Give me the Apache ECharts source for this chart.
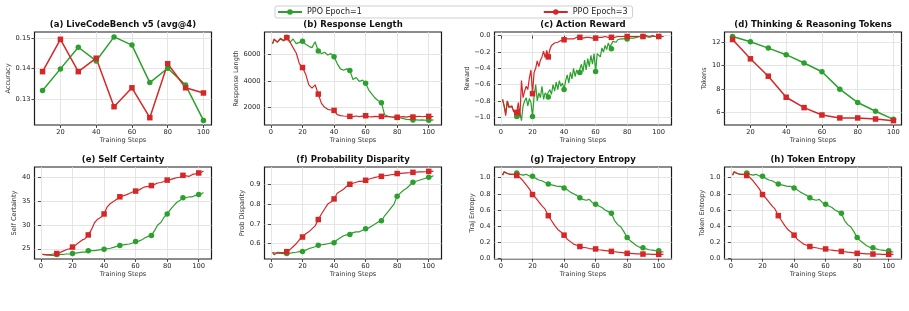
<!DOCTYPE html>
<html>
<head>
<meta charset="utf-8">
<script src="https://cdn.jsdelivr.net/npm/echarts@6/dist/echarts.min.js"></script>
<style>
  html, body { margin: 0; padding: 0; background: #fff; }
  #chart { width: 909px; height: 311px; }
</style>
</head>
<body>
<div id="chart"></div>
<script>
// ---- data ----
const evalSteps = [10, 20, 30, 40, 50, 60, 70, 80, 90, 100];
// training steps sampled every 2 steps (panels b, e, f, g, h)
const trainSteps = [1, 2, 4, 6, 8, 10, 12, 14, 16, 18, 20, 22, 24, 26, 28, 30, 32, 34, 36, 38, 40,
  42, 44, 46, 48, 50, 52, 54, 56, 58, 60, 62, 64, 66, 68, 70, 72, 74, 76, 78, 80,
  82, 84, 86, 88, 90, 92, 94, 96, 98, 100, 102, 103];
// every step (panel c, very noisy)
const allSteps = [];
for (let s = 1; s <= 103; s++) allSteps.push(s);

const accEpoch1 = [0.1327, 0.1398, 0.1469, 0.1424, 0.1503, 0.1476, 0.1353, 0.1400, 0.1345, 0.1229];
const accEpoch3 = [0.1389, 0.1495, 0.1389, 0.1433, 0.1274, 0.1336, 0.1238, 0.1415, 0.1336, 0.1319];

const tokensEpoch1 = [12.45, 12.0, 11.46, 10.9, 10.19, 9.45, 7.97, 6.83, 6.09, 5.4];
const tokensEpoch3 = [12.2, 10.55, 9.07, 7.28, 6.4, 5.77, 5.52, 5.52, 5.43, 5.29];

const respEpoch1 = [6800,
  7100, 6950, 7150, 7000, 7280, 6900, 7150, 6800, 6900, 6980,
  6750, 6600, 6500, 6950, 6250, 6050, 6150, 5950, 6050, 5820,
  5300, 4900, 4800, 4900, 4770, 4100, 4250, 3950, 4050, 3810,
  3300, 3000, 2700, 2500, 2350, 1450, 1320, 1280, 1250, 1230,
  1200, 1150, 1100, 1080, 1050, 1060, 1040, 1050, 1030, 1020,
  1040, 1050];
const respEpoch3 = [6800,
  7150, 6900, 7200, 7050, 7250, 6950, 6500, 6100, 5300, 5000,
  4500, 3700, 3450, 3700, 3000, 2300, 2000, 1850, 1800, 1770,
  1450, 1380, 1350, 1330, 1320, 1300, 1350, 1300, 1340, 1370,
  1300, 1280, 1320, 1300, 1320, 1300, 1320, 1290, 1270, 1250,
  1280, 1300, 1270, 1320, 1270, 1300, 1330, 1290, 1320, 1320,
  1300, 1310];

const rewardEpoch1 = [
  -0.78, -0.86, -0.95, -0.80, -0.86, -0.84, -0.88, -0.92, -0.90, -0.99,
  -0.90, -0.95, -1.04, -0.86, -0.80, -0.76, -0.86, -0.77, -0.82, -0.99,
  -0.74, -0.60, -0.80, -0.70, -0.76, -0.62, -0.78, -0.70, -0.73, -0.75,
  -0.66, -0.72, -0.60, -0.68, -0.57, -0.66, -0.55, -0.62, -0.58, -0.66,
  -0.55, -0.48, -0.58, -0.45, -0.53, -0.40, -0.50, -0.42, -0.47, -0.45,
  -0.35, -0.44, -0.30, -0.42, -0.28, -0.38, -0.24, -0.35, -0.22, -0.44,
  -0.22, -0.20, -0.26, -0.15, -0.20, -0.12, -0.17, -0.09, -0.14, -0.16,
  -0.07, -0.06, -0.08, -0.05, -0.06, -0.04, -0.06, -0.04, -0.05, -0.04,
  -0.03, -0.03, -0.02, -0.03, -0.02, -0.02, -0.02, -0.01, -0.02, -0.01,
  -0.02, -0.01, -0.01, -0.02, -0.01, -0.01, -0.01, -0.01, -0.01, -0.01,
  -0.01, -0.01, -0.01];
const rewardEpoch3 = [
  -0.78, -0.86, -0.98, -0.80, -0.88, -0.90, -0.86, -0.93, -0.91, -0.94,
  -0.82, -1.00, -0.55, -0.76, -0.68, -0.62, -0.66, -0.52, -0.42, -0.71,
  -0.45, -0.40, -0.31, -0.38, -0.30, -0.26, -0.19, -0.27, -0.18, -0.26,
  -0.17, -0.12, -0.10, -0.09, -0.08, -0.08, -0.07, -0.06, -0.06, -0.05,
  -0.05, -0.04, -0.05, -0.04, -0.03, -0.04, -0.03, -0.02, -0.03, -0.02,
  -0.02, -0.03, -0.02, -0.02, -0.03, -0.02, -0.02, -0.03, -0.02, -0.03,
  -0.02, -0.02, -0.01, -0.02, -0.02, -0.01, -0.02, -0.02, -0.01, -0.02,
  -0.01, -0.02, -0.01, -0.01, -0.02, -0.01, -0.01, -0.01, -0.02, -0.01,
  -0.01, -0.01, -0.02, -0.01, -0.01, -0.01, -0.00, -0.01, -0.01, -0.01,
  -0.01, -0.00, -0.01, -0.01, -0.01, -0.00, -0.01, -0.01, -0.00, -0.01,
  -0.01, -0.01, -0.01];

const certEpoch1 = [23.8,
  23.7, 23.7, 23.6, 23.6, 23.8, 23.8, 23.8, 23.9, 23.9, 24.0,
  24.1, 24.2, 24.3, 24.3, 24.6, 24.6, 24.6, 24.7, 24.8, 24.9,
  25.0, 25.1, 25.3, 25.5, 25.7, 25.8, 25.9, 26.0, 26.2, 26.5,
  26.6, 26.9, 27.3, 27.6, 27.8, 28.8, 30.0, 30.5, 31.6, 32.3,
  33.2, 34.0, 34.7, 35.1, 35.7, 35.7, 35.9, 35.9, 36.2, 36.4,
  36.6, 36.8];
const certEpoch3 = [23.8,
  23.7, 23.7, 23.8, 23.9, 24.0, 24.2, 24.5, 24.8, 25.0, 25.35,
  25.8, 26.3, 26.8, 27.1, 27.9, 29.0, 30.5, 31.2, 31.6, 32.3,
  33.8, 34.5, 34.9, 35.4, 35.9, 36.1, 36.3, 36.6, 36.9, 37.1,
  37.3, 37.7, 38.0, 38.1, 38.25, 38.5, 38.8, 38.9, 39.1, 39.4,
  39.5, 39.7, 39.9, 40.0, 40.4, 40.3, 40.2, 40.6, 40.7, 40.9,
  41.1, 41.3];

const probEpoch1 = [0.555,
  0.553, 0.552, 0.551, 0.550, 0.551, 0.552, 0.555, 0.557, 0.560, 0.561,
  0.568, 0.575, 0.580, 0.585, 0.592, 0.595, 0.597, 0.600, 0.603, 0.605,
  0.620, 0.630, 0.640, 0.645, 0.647, 0.656, 0.660, 0.660, 0.668, 0.675,
  0.680, 0.690, 0.700, 0.710, 0.716, 0.740, 0.760, 0.780, 0.800, 0.840,
  0.855, 0.870, 0.880, 0.895, 0.910, 0.915, 0.920, 0.925, 0.930, 0.935,
  0.940, 0.943];
const probEpoch3 = [0.556,
  0.545, 0.556, 0.555, 0.555, 0.560, 0.570, 0.585, 0.600, 0.620, 0.634,
  0.650, 0.660, 0.675, 0.690, 0.722, 0.750, 0.775, 0.800, 0.810, 0.826,
  0.855, 0.865, 0.875, 0.890, 0.900, 0.905, 0.910, 0.915, 0.915, 0.920,
  0.925, 0.930, 0.935, 0.938, 0.940, 0.943, 0.945, 0.948, 0.950, 0.954,
  0.955, 0.956, 0.957, 0.958, 0.960, 0.961, 0.962, 0.962, 0.963, 0.965,
  0.965, 0.966];

// trajectory entropy and token entropy show the same curves
const entEpoch1 = [1.03,
  1.07, 1.05, 1.04, 1.04, 1.057, 1.04, 1.03, 1.04, 1.02, 1.015,
  0.99, 0.97, 0.96, 0.94, 0.92, 0.91, 0.90, 0.89, 0.89, 0.87,
  0.85, 0.82, 0.80, 0.78, 0.75, 0.73, 0.72, 0.73, 0.69, 0.67,
  0.65, 0.63, 0.60, 0.58, 0.56, 0.47, 0.42, 0.39, 0.33, 0.26,
  0.22, 0.19, 0.16, 0.14, 0.135, 0.12, 0.11, 0.105, 0.10, 0.098,
  0.085, 0.08];
const entEpoch3 = [1.03,
  1.07, 1.05, 1.04, 1.04, 1.025, 1.00, 0.96, 0.91, 0.86, 0.79,
  0.75, 0.70, 0.65, 0.61, 0.53, 0.47, 0.41, 0.36, 0.33, 0.29,
  0.24, 0.21, 0.18, 0.165, 0.15, 0.14, 0.135, 0.125, 0.12, 0.12,
  0.11, 0.105, 0.10, 0.095, 0.09, 0.085, 0.08, 0.078, 0.072, 0.066,
  0.065, 0.063, 0.060, 0.058, 0.057, 0.056, 0.055, 0.054, 0.053, 0.053,
  0.052, 0.052];

// tick labels
const evalTicks = [20, 40, 60, 80, 100];
const trainTicks = [0, 20, 40, 60, 80, 100];
const accTicks = [0.13, 0.14, 0.15];
const respTicks = [2000, 4000, 6000];
const rewardTicks = [-1.0, -0.8, -0.6, -0.4, -0.2, 0.0];
const tokenTicks = [6, 8, 10, 12];
const certTicks = [25, 30, 35, 40];
const probTicks = [0.6, 0.7, 0.8, 0.9];
const entTicks = [0.0, 0.2, 0.4, 0.6, 0.8, 1.0];

const GREEN = '#2ca02c';
const RED = '#d62728';
const FONT = 'DejaVu Sans';

function pairs(xs, ys) {
  return xs.map((x, i) => [x, ys[i]]);
}
function dec(n) {
  return v => (+v).toFixed(n).replace('-', '\u2212');
}

const panels = [
  { title: '(a) LiveCodeBench v5 (avg@4)', yName: 'Accuracy', gap: 21, x: [5.5, 104.5], y: [0.1214, 0.1519],
    xt: evalTicks, yt: accTicks, fmt: dec(2), g: pairs(evalSteps, accEpoch1), r: pairs(evalSteps, accEpoch3), lw: 1.5 },
  { title: '(b) Response Length', yName: 'Response Length', gap: 23.5, x: [-4.1, 108.1], y: [670, 7680],
    xt: trainTicks, yt: respTicks, fmt: dec(0), g: pairs(trainSteps, respEpoch1), r: pairs(trainSteps, respEpoch3), lw: 1.2 },
  { title: '(c) Action Reward', yName: 'Reward', gap: 23, x: [-4.1, 108.1], y: [-1.094, 0.045],
    xt: trainTicks, yt: rewardTicks, fmt: dec(1), g: pairs(allSteps, rewardEpoch1), r: pairs(allSteps, rewardEpoch3), lw: 1.2 },
  { title: '(d) Thinking & Reasoning Tokens', yName: 'Tokens', gap: 16, x: [5.5, 104.5], y: [4.92, 12.83],
    xt: evalTicks, yt: tokenTicks, fmt: dec(0), g: pairs(evalSteps, tokensEpoch1), r: pairs(evalSteps, tokensEpoch3), lw: 1.5 },
  { title: '(e) Self Certainty', yName: 'Self Certainty', gap: 16, x: [-4.1, 108.1], y: [22.85, 42.15],
    xt: trainTicks, yt: certTicks, fmt: dec(0), g: pairs(trainSteps, certEpoch1), r: pairs(trainSteps, certEpoch3), lw: 1.2 },
  { title: '(f) Probability Disparity', yName: 'Prob Disparity', gap: 18, x: [-4.1, 108.1], y: [0.523, 0.987],
    xt: trainTicks, yt: probTicks, fmt: dec(1), g: pairs(trainSteps, probEpoch1), r: pairs(trainSteps, probEpoch3), lw: 1.2 },
  { title: '(g) Trajectory Entropy', yName: 'Traj Entropy', gap: 18, x: [-4.1, 108.1], y: [-0.004, 1.13],
    xt: trainTicks, yt: entTicks, fmt: dec(1), g: pairs(trainSteps, entEpoch1), r: pairs(trainSteps, entEpoch3), lw: 1.2 },
  { title: '(h) Token Entropy', yName: 'Token Entropy', gap: 18, x: [-4.1, 108.1], y: [-0.004, 1.13],
    xt: trainTicks, yt: entTicks, fmt: dec(1), g: pairs(trainSteps, entEpoch1), r: pairs(trainSteps, entEpoch3), lw: 1.2 }
];

// layout of the 2x4 subplot grid
const colLeft = [34.5, 264.5, 494.5, 724.5];
const plotW = 177;
const rowTop = [32, 167];
const plotH = [93, 92];
const titleTop = [20, 155];

const grids = [], xAxes = [], yAxes = [], titles = [], series = [];

function markerEvery10(sym) {
  return v => (v[0] % 10 === 0 ? sym : 'none');
}

panels.forEach((p, i) => {
  const col = i % 4, row = Math.floor(i / 4);
  grids.push({
    left: colLeft[col], top: rowTop[row], width: plotW, height: plotH[row],
    show: true, borderColor: '#1a1a1a', borderWidth: 1.2, backgroundColor: '#fff'
  });
  titles.push({
    text: p.title, left: colLeft[col] + plotW / 2, top: titleTop[row], textAlign: 'center', padding: 0,
    textStyle: { fontFamily: FONT, fontSize: 8.5, fontWeight: 'bold', color: '#111' }
  });
  const gridLine = { show: true, lineStyle: { color: '#dedede', width: 0.8 } };
  xAxes.push({
    type: 'value', gridIndex: i, min: p.x[0], max: p.x[1],
    name: 'Training Steps', nameLocation: 'middle', nameGap: 12,
    nameTextStyle: { fontFamily: FONT, fontSize: 6.6, color: '#333' },
    axisLine: { show: false },
    axisTick: { show: true, inside: false, length: 3, customValues: p.xt, lineStyle: { color: '#222', width: 0.8 } },
    axisLabel: { customValues: p.xt, margin: 4, fontFamily: FONT, fontSize: 6.7, color: '#222' },
    splitLine: gridLine
  });
  yAxes.push({
    type: 'value', gridIndex: i, min: p.y[0], max: p.y[1],
    name: p.yName, nameLocation: 'middle', nameGap: p.gap,
    nameTextStyle: { fontFamily: FONT, fontSize: 6.6, color: '#333' },
    axisLine: { show: false },
    axisTick: { show: true, inside: false, length: 3, customValues: p.yt, lineStyle: { color: '#222', width: 0.8 } },
    axisLabel: { customValues: p.yt, margin: 4, fontFamily: FONT, fontSize: 6.7, color: '#222', formatter: p.fmt },
    splitLine: gridLine
  });
  [['PPO Epoch=1', p.g, GREEN, 'circle', 5.5], ['PPO Epoch=3', p.r, RED, 'rect', 5.5]].forEach(([name, data, color, sym, size]) => {
    series.push({
      name: name, type: 'line', xAxisIndex: i, yAxisIndex: i, data: data,
      symbol: markerEvery10(sym), symbolSize: size, showAllSymbol: true,
      lineStyle: { color: color, width: p.lw }, itemStyle: { color: color },
      emphasis: { disabled: true }
    });
  });
});

const chart = echarts.init(document.getElementById('chart'));
chart.setOption({
  animation: false,
  backgroundColor: '#fff',
  title: titles,
  legend: {
    data: ['PPO Epoch=1', 'PPO Epoch=3'], left: 275, top: 6,
    itemGap: 181, itemWidth: 24, itemHeight: 7, padding: [2, 5, 2, 2],
    borderColor: '#cfcfcf', borderWidth: 1, borderRadius: 2,
    textStyle: { fontFamily: FONT, fontSize: 8, color: '#222' }
  },
  grid: grids,
  xAxis: xAxes,
  yAxis: yAxes,
  series: series
});
</script>
</body>
</html>
